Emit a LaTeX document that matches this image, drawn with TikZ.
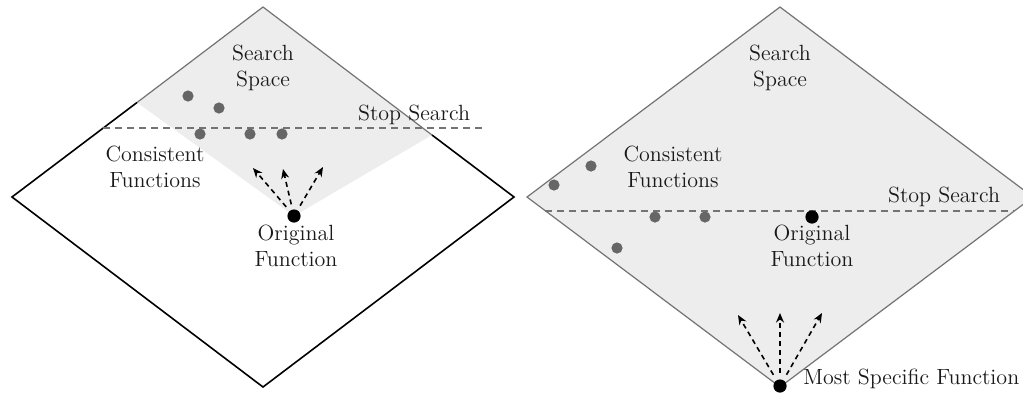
\documentclass[tikz,border=0pt]{standalone}
\usetikzlibrary{arrows.meta}
\begin{document}
\begin{tikzpicture}[x=0.5pt,y=-0.5pt,
  border/.style={line width=0.8pt, line join=miter},
  softborder/.style={draw=black!55, line width=0.6pt, line join=miter},
  region/.style={fill=black!7},
  stopline/.style={draw=black!55, line width=0.9pt, dash pattern=on 3.5pt off 2.5pt},
  dot/.style={circle, fill=black!60, inner sep=0pt, minimum size=5.6pt},
  origin/.style={circle, fill=black, inner sep=0pt, minimum size=6.6pt},
  lbl/.style={align=center, font=\fontsize{11}{13}\selectfont, inner sep=0pt, text=black!90},
  probe/.style={draw, line width=0.8pt, dash pattern=on 2.5pt off 2pt,
    -{Stealth[length=4.8pt,width=4pt]}, shorten <=2.5pt}
]
\clip (0,0) rectangle (1023,398);

% ---------- left: search from the original function ----------
\coordinate (LT) at (263,7);
\coordinate (LL) at (12,197);
\coordinate (LB) at (263,387);
\coordinate (LR) at (514,197);
\coordinate (LSa) at (137,102.5);
\coordinate (LSb) at (432,135);
\coordinate (lorig) at (294,216);

\fill[region] (lorig) -- (LSa) -- (LT) -- (LSb) -- cycle;
\draw[softborder] (LSa) -- (LT) -- (LSb);
\draw[border] (LSa) -- (LL) -- (LB) -- (LR) -- (LSb);

\coordinate (lstopA) at (103,128);
\coordinate (lstopB) at (482,128);
\draw[stopline] (lstopA) -- (lstopB);

\node[lbl] (lspace) at (263,68) {Search\\Space};
\node[lbl] (lstop) at (414,115) {Stop Search};
\node[lbl] (lcons) at (155,167) {Consistent\\Functions};
\node[lbl] (lorigtxt) at (296,246) {Original\\Function};

\node[dot] (ld1) at (188,96) {};
\node[dot] (ld2) at (219,108) {};
\node[dot] (ld3) at (200,134) {};
\node[dot] (ld4) at (250,134) {};
\node[dot] (ld5) at (282,134) {};

\node[origin] (lo) at (lorig) {};
\coordinate (la1) at (253,168);
\coordinate (la2) at (283,169);
\coordinate (la3) at (323,167);
\draw[probe] (lo) -- (la1);
\draw[probe] (lo) -- (la2);
\draw[probe] (lo) -- (la3);

% ---------- right: search from the most specific function ----------
\coordinate (RT) at (780,7);
\coordinate (RL) at (527,197);
\coordinate (RB) at (780,387);
\coordinate (RR) at (1033,197);
\filldraw[region, softborder] (RT) -- (RL) -- (RB) -- (RR) -- cycle;

\coordinate (rstopA) at (545,211);
\coordinate (rstopB) at (1014,211);
\draw[stopline] (rstopA) -- (rstopB);

\node[lbl] (rspace) at (780,68) {Search\\Space};
\node[lbl] (rstop) at (944,197) {Stop Search};
\node[lbl] (rcons) at (673,167) {Consistent\\Functions};
\node[lbl] (rorigtxt) at (812,246) {Original\\Function};

\node[dot] (rd1) at (554,185) {};
\node[dot] (rd2) at (591,166) {};
\node[dot] (rd3) at (655,217) {};
\node[dot] (rd4) at (705,217) {};
\node[dot] (rd5) at (617,248) {};
\node[origin] (ro) at (812,217) {};

\node[origin] (rms) at (780,386) {};
\node[lbl, anchor=base west] (rmstxt) at (803,384) {Most Specific Function};
\coordinate (ra1) at (738,315);
\coordinate (ra2) at (780,313);
\coordinate (ra3) at (822,313);
\draw[probe, shorten <=3pt] (rms) -- (ra1);
\draw[probe, shorten <=3pt] (rms) -- (ra2);
\draw[probe, shorten <=3pt] (rms) -- (ra3);
\end{tikzpicture}
\end{document}
